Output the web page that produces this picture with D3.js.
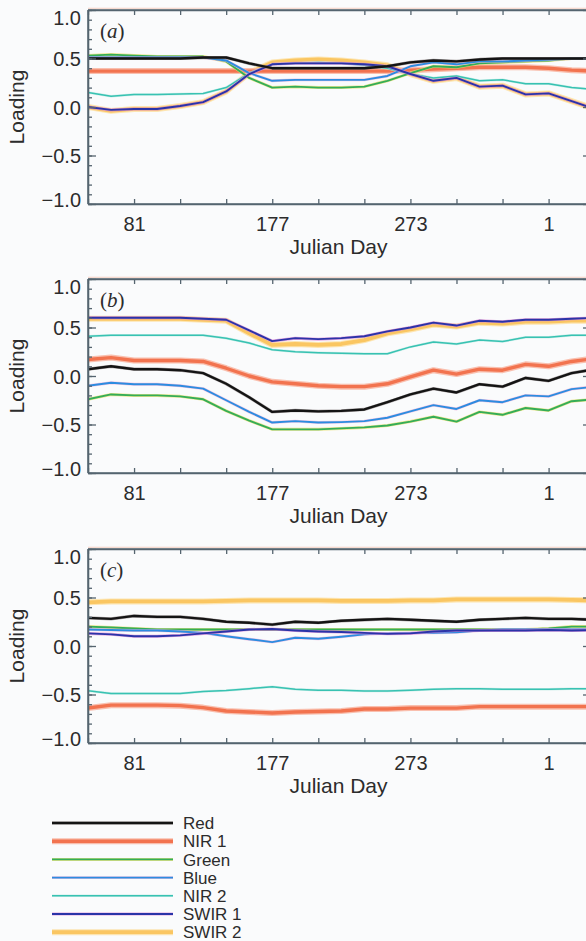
<!DOCTYPE html>
<html>
<head>
<meta charset="utf-8">
<script src="https://cdn.jsdelivr.net/npm/d3@7"></script>
<style>
  html, body { margin: 0; padding: 0; background: #fafbfc; }
  svg { display: block; }
  text { font-family: "Liberation Sans", Arial, Helvetica, sans-serif; fill: #2c2c2c; }
</style>
</head>
<body>
<svg id="chart" width="586" height="941"></svg>
<script>
// 16-day composite start days (day-of-year), wrapping into the next year
const days = [49, 65, 81, 97, 113, 129, 145, 161, 177, 193, 209, 225, 241, 257, 273, 289, 305, 321, 337, 353, 1, 17, 33];
const tickDays = days.filter((d, i) => i % 2 === 0);
const labelDays = [81, 177, 273, 1];
const yMajor = [-1.0, -0.5, 0.0, 0.5, 1.0];
const yMinor = d3.range(-10, 11).map(v => v / 10);
const bands = ["Red", "NIR 1", "Green", "Blue", "NIR 2", "SWIR 1", "SWIR 2"];
const panelLabels = ["a", "b", "c"];

// Loadings, panel (a)
const aRed   = [0.50, 0.50, 0.50, 0.50, 0.50, 0.51, 0.51, 0.45, 0.40, 0.40, 0.40, 0.40, 0.40, 0.42, 0.46, 0.48, 0.47, 0.49, 0.50, 0.50, 0.50, 0.50, 0.50];
const aNir1  = [0.37, 0.37, 0.37, 0.37, 0.37, 0.37, 0.37, 0.37, 0.37, 0.37, 0.37, 0.37, 0.37, 0.37, 0.38, 0.39, 0.40, 0.41, 0.41, 0.41, 0.40, 0.38, 0.37];
const aGreen = [0.53, 0.54, 0.53, 0.52, 0.52, 0.52, 0.47, 0.30, 0.20, 0.21, 0.20, 0.20, 0.21, 0.27, 0.35, 0.42, 0.41, 0.45, 0.46, 0.47, 0.48, 0.50, 0.50];
const aBlue  = [0.51, 0.51, 0.51, 0.51, 0.51, 0.51, 0.48, 0.35, 0.27, 0.28, 0.28, 0.28, 0.28, 0.32, 0.42, 0.46, 0.44, 0.47, 0.47, 0.48, 0.49, 0.50, 0.50];
const aNir2  = [0.15, 0.11, 0.13, 0.13, 0.135, 0.14, 0.20, 0.35, 0.44, 0.45, 0.46, 0.45, 0.43, 0.40, 0.34, 0.30, 0.32, 0.27, 0.28, 0.24, 0.24, 0.20, 0.18];
const aSwir1 = [0.00, -0.03, -0.02, -0.02, 0.01, 0.05, 0.16, 0.34, 0.44, 0.45, 0.45, 0.45, 0.44, 0.42, 0.34, 0.27, 0.30, 0.21, 0.22, 0.13, 0.14, 0.06, -0.02];
const aSwir2 = [0.00, -0.04, -0.02, -0.02, 0.01, 0.05, 0.16, 0.35, 0.46, 0.48, 0.49, 0.48, 0.46, 0.43, 0.34, 0.27, 0.30, 0.21, 0.22, 0.13, 0.14, 0.06, -0.02];

// Loadings, panel (b)
const bRed   = [0.07, 0.10, 0.07, 0.07, 0.06, 0.03, -0.08, -0.22, -0.37, -0.355, -0.365, -0.36, -0.345, -0.27, -0.19, -0.13, -0.17, -0.085, -0.11, -0.02, -0.05, 0.03, 0.07];
const bNir1  = [0.17, 0.19, 0.16, 0.16, 0.16, 0.15, 0.08, 0.00, -0.06, -0.08, -0.10, -0.11, -0.11, -0.08, -0.01, 0.06, 0.02, 0.07, 0.06, 0.12, 0.10, 0.15, 0.18];
const bGreen = [-0.24, -0.19, -0.20, -0.20, -0.21, -0.24, -0.36, -0.46, -0.55, -0.55, -0.55, -0.54, -0.53, -0.51, -0.47, -0.42, -0.47, -0.37, -0.40, -0.33, -0.355, -0.26, -0.24];
const bBlue  = [-0.10, -0.07, -0.085, -0.085, -0.10, -0.13, -0.25, -0.37, -0.48, -0.465, -0.48, -0.475, -0.465, -0.43, -0.365, -0.30, -0.34, -0.25, -0.27, -0.20, -0.21, -0.135, -0.11];
const bNir2  = [0.41, 0.42, 0.42, 0.42, 0.42, 0.42, 0.39, 0.34, 0.27, 0.25, 0.24, 0.235, 0.23, 0.23, 0.30, 0.35, 0.33, 0.37, 0.355, 0.40, 0.40, 0.42, 0.42];
const bSwir1 = [0.60, 0.60, 0.60, 0.60, 0.60, 0.59, 0.58, 0.47, 0.36, 0.39, 0.38, 0.39, 0.41, 0.46, 0.50, 0.55, 0.52, 0.57, 0.56, 0.58, 0.58, 0.59, 0.60];
const bSwir2 = [0.59, 0.59, 0.59, 0.59, 0.59, 0.58, 0.57, 0.44, 0.32, 0.33, 0.32, 0.33, 0.37, 0.44, 0.48, 0.53, 0.51, 0.55, 0.54, 0.56, 0.56, 0.57, 0.57];

// Loadings, panel (c)
const cRed   = [0.29, 0.28, 0.31, 0.30, 0.30, 0.28, 0.25, 0.24, 0.22, 0.25, 0.24, 0.26, 0.27, 0.28, 0.27, 0.26, 0.25, 0.27, 0.28, 0.29, 0.28, 0.28, 0.27];
const cNir1  = [-0.64, -0.61, -0.61, -0.61, -0.615, -0.635, -0.67, -0.68, -0.69, -0.68, -0.675, -0.67, -0.65, -0.65, -0.64, -0.64, -0.64, -0.625, -0.625, -0.625, -0.625, -0.625, -0.625];
const cGreen = [0.20, 0.19, 0.18, 0.17, 0.17, 0.17, 0.17, 0.17, 0.17, 0.17, 0.17, 0.17, 0.17, 0.17, 0.17, 0.17, 0.17, 0.17, 0.17, 0.17, 0.18, 0.20, 0.20];
const cBlue  = [0.17, 0.165, 0.16, 0.16, 0.15, 0.135, 0.10, 0.07, 0.04, 0.085, 0.075, 0.095, 0.12, 0.13, 0.135, 0.135, 0.14, 0.16, 0.17, 0.17, 0.17, 0.17, 0.17];
const cNir2  = [-0.46, -0.49, -0.49, -0.49, -0.49, -0.47, -0.46, -0.44, -0.42, -0.445, -0.455, -0.455, -0.465, -0.465, -0.455, -0.445, -0.44, -0.44, -0.445, -0.445, -0.445, -0.44, -0.44];
const cSwir1 = [0.13, 0.12, 0.10, 0.10, 0.11, 0.13, 0.15, 0.17, 0.175, 0.16, 0.15, 0.145, 0.135, 0.125, 0.13, 0.15, 0.16, 0.16, 0.16, 0.16, 0.165, 0.16, 0.165];
const cSwir2 = [0.45, 0.46, 0.46, 0.46, 0.46, 0.46, 0.465, 0.47, 0.47, 0.47, 0.47, 0.465, 0.465, 0.465, 0.47, 0.47, 0.48, 0.48, 0.48, 0.48, 0.48, 0.475, 0.47];

const panels = [
  { "Red": aRed, "NIR 1": aNir1, "Green": aGreen, "Blue": aBlue, "NIR 2": aNir2, "SWIR 1": aSwir1, "SWIR 2": aSwir2 },
  { "Red": bRed, "NIR 1": bNir1, "Green": bGreen, "Blue": bBlue, "NIR 2": bNir2, "SWIR 1": bSwir1, "SWIR 2": bSwir2 },
  { "Red": cRed, "NIR 1": cNir1, "Green": cGreen, "Blue": cBlue, "NIR 2": cNir2, "SWIR 1": cSwir1, "SWIR 2": cSwir2 }
];

// Each band: a soft halo stroke under a core stroke
const style = {
  "Red":    { halo: "#7a7070", haloW: 3.2, haloO: 0.6, core: "#141414", coreW: 2.4 },
  "NIR 1":  { halo: "#f8b4a0", haloW: 6.0, haloO: 0.85, core: "#f2734f", coreW: 3.4 },
  "Green":  { halo: "#e8e070", haloW: 3.0, haloO: 0.8, core: "#34ad58", coreW: 1.9 },
  "Blue":   { halo: "#eeb0d8", haloW: 2.9, haloO: 0.7, core: "#2c8ce0", coreW: 1.9 },
  "NIR 2":  { halo: "#c4ece6", haloW: 2.5, haloO: 0.8, core: "#38c2b2", coreW: 1.5 },
  "SWIR 1": { halo: "#dc8ad8", haloW: 3.0, haloO: 0.75, core: "#2a34a8", coreW: 1.9 },
  "SWIR 2": { halo: "#fde2a8", haloW: 6.0, haloO: 0.9, core: "#fac662", coreW: 3.8 }
};
const drawOrder = ["SWIR 2", "NIR 1", "NIR 2", "Green", "Blue", "SWIR 1", "Red"];

const svg = d3.select("#chart");
svg.append("rect").attr("width", 586).attr("height", 941).attr("fill", "#fafbfc");

const plotLeft = 88, plotRight = 591, plotTop = 10, plotBottom = 204;
const axisColor = "#55646f";
const panelOffsets = [0, 269, 539];
const tickFont = "20px";

const x = d3.scalePoint().domain(days).range([plotLeft, plotLeft + 22 * 23.03]);
const y = d3.scaleLinear().domain([-1, 1]).range([plotBottom, plotTop]);

svg.append("defs").append("clipPath").attr("id", "plotclip")
  .append("rect").attr("x", plotLeft).attr("y", plotTop)
  .attr("width", plotRight - plotLeft).attr("height", plotBottom - plotTop);

const line = d3.line().x((d, i) => x(days[i])).y(d => y(d));

panels.forEach((series, p) => {
  const g = svg.append("g").attr("transform", `translate(0,${panelOffsets[p]})`);

  // faint fringe above the top frame
  g.append("line").attr("x1", plotLeft).attr("x2", 586).attr("y1", plotTop - 1.7).attr("y2", plotTop - 1.7)
    .attr("stroke", "#f5cfc2").attr("stroke-width", 1.1);

  // data lines
  const lg = g.append("g").attr("clip-path", "url(#plotclip)");
  drawOrder.forEach(b => {
    const s = style[b];
    lg.append("path").datum(series[b]).attr("d", line).attr("fill", "none")
      .attr("stroke", s.halo).attr("stroke-width", s.haloW).attr("stroke-linejoin", "round").attr("opacity", s.haloO);
    lg.append("path").datum(series[b]).attr("d", line).attr("fill", "none")
      .attr("stroke", s.core).attr("stroke-width", s.coreW).attr("stroke-linejoin", "round");
  });

  // left axis: minor then major ticks, pointing inward
  g.append("g").attr("transform", `translate(${plotLeft},0)`)
    .call(d3.axisLeft(y).tickValues(yMinor).tickSizeInner(-4).tickSizeOuter(0).tickFormat(""));
  const leftMajor = g.append("g").attr("transform", `translate(${plotLeft},0)`)
    .call(d3.axisLeft(y).tickValues(yMajor).tickSizeInner(-8).tickSizeOuter(0).tickPadding(7)
      .tickFormat(d3.format(".1f")));
  leftMajor.selectAll("text")
    .style("font-size", tickFont)
    .attr("dy", d => d === 1 ? "0.70em" : d === -1 ? "0.14em" : "0.36em");

  // right axis
  g.append("g").attr("transform", `translate(${plotRight},0)`)
    .call(d3.axisRight(y).tickValues(yMinor).tickSizeInner(-4).tickSizeOuter(0).tickFormat(""));
  g.append("g").attr("transform", `translate(${plotRight},0)`)
    .call(d3.axisRight(y).tickValues(yMajor).tickSizeInner(-8).tickSizeOuter(0).tickFormat(""));

  // bottom and top axes
  const bottomAxis = g.append("g").attr("transform", `translate(0,${plotBottom})`)
    .call(d3.axisBottom(x).tickValues(tickDays).tickSizeInner(-5).tickSizeOuter(0).tickPadding(13)
      .tickFormat(d => labelDays.includes(d) ? String(d) : ""));
  bottomAxis.selectAll("text").style("font-size", tickFont);
  g.append("g").attr("transform", `translate(0,${plotTop})`)
    .call(d3.axisTop(x).tickValues(tickDays).tickSizeInner(-5).tickSizeOuter(0).tickFormat(""));

  g.selectAll(".domain, .tick line").attr("stroke", axisColor).attr("stroke-width", 1.3);
  g.selectAll(".tick text").attr("fill", "#2c2c2c");

  // frame edges
  g.append("line").attr("x1", plotLeft).attr("x2", plotRight).attr("y1", plotTop).attr("y2", plotTop)
    .attr("stroke", axisColor).attr("stroke-width", 1.5);
  g.append("line").attr("x1", plotLeft).attr("x2", plotRight).attr("y1", plotBottom).attr("y2", plotBottom)
    .attr("stroke", axisColor).attr("stroke-width", 1.5);
  g.append("line").attr("x1", plotLeft).attr("x2", plotLeft).attr("y1", plotTop).attr("y2", plotBottom)
    .attr("stroke", axisColor).attr("stroke-width", 1.5);

  // axis titles
  g.append("text").attr("x", (plotLeft + plotRight) / 2 - 1).attr("y", 254)
    .attr("text-anchor", "middle").style("font-size", "21px").text("Julian Day");
  g.append("text").attr("transform", `translate(24,${(plotTop + plotBottom) / 2}) rotate(-90)`)
    .attr("text-anchor", "middle").style("font-size", "21px").text("Loading");

  // panel letter
  const pl = g.append("text").attr("x", 100).attr("y", 38)
    .style("font-family", "'Liberation Serif', 'Times New Roman', serif").style("font-size", "21px");
  pl.append("tspan").text("(");
  pl.append("tspan").style("font-style", "italic").text(panelLabels[p]);
  pl.append("tspan").text(")");
});

// legend
const legendTop = 823, legendStep = 18.2;
const legend = svg.append("g");
bands.forEach((b, i) => {
  const yy = legendTop + i * legendStep;
  const s = style[b];
  legend.append("line").attr("x1", 52).attr("x2", 173).attr("y1", yy).attr("y2", yy)
    .attr("stroke", s.halo).attr("stroke-width", s.haloW).attr("opacity", s.haloO);
  legend.append("line").attr("x1", 52).attr("x2", 173).attr("y1", yy).attr("y2", yy)
    .attr("stroke", s.core).attr("stroke-width", s.coreW);
  legend.append("text").attr("x", 183).attr("y", yy).attr("dy", "0.36em")
    .style("font-size", "17px").text(b);
});
</script>
</body>
</html>
